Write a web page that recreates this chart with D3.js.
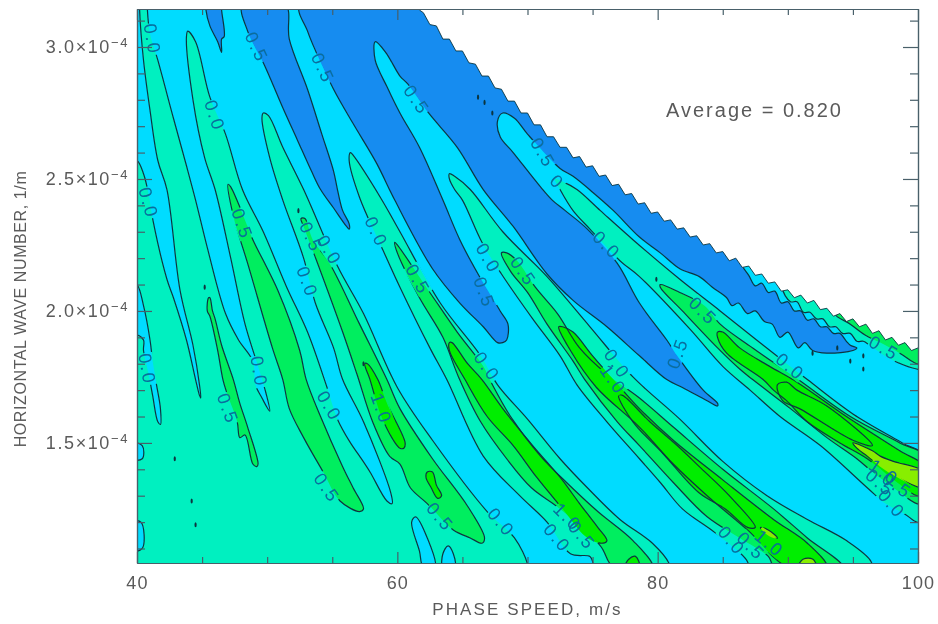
<!DOCTYPE html>
<html>
<head>
<meta charset="utf-8">
<script src="https://cdn.jsdelivr.net/npm/d3@7"></script>
<style>
  body { margin: 0; background: #fff; }
  text { font-family: "Liberation Sans", sans-serif; }
</style>
</head>
<body>
<div id="chart"></div>
<script>
// all regions are [phase speed m/s, wave number in 1e-4 1/m]

// top right edge of the data, the sawtooth next to the white area
var edgeOfData = [[61.7,3.14],[62,3.13],[62.5,3.085],[63,3.08],[63.5,3.03],[64,3.03],[64.5,2.985],[65,2.985],[65.5,2.94],[66,2.935],[66.5,2.89],[67,2.89],[67.5,2.845],[68,2.84],[68.5,2.795],[69,2.795],[69.5,2.75],[70,2.75],[70.5,2.705],[71,2.705],[71.5,2.66],[72,2.66],[72.5,2.62],[73,2.62],[73.5,2.58],[74,2.585],[74.5,2.545],[75,2.55],[75.5,2.51],[76,2.515],[76.5,2.475],[77,2.48],[77.5,2.44],[78,2.445],[78.5,2.405],[79,2.41],[79.5,2.37],[80,2.375],[80.5,2.34],[81,2.345],[81.5,2.31],[82,2.315],[82.5,2.28],[83,2.285],[83.5,2.25],[84,2.255],[84.5,2.22],[85,2.225],[85.5,2.19],[86,2.2],[86.5,2.165],[87,2.17],[87.5,2.135],[88,2.14],[88.5,2.105],[89,2.11],[89.5,2.075],[90,2.08],[90.5,2.05],[91,2.06],[91.5,2.03],[92,2.04],[92.5,2.005],[93,2.01],[93.5,1.98],[94,1.99],[94.5,1.96],[95,1.97],[95.5,1.94],[96,1.95],[96.5,1.915],[97,1.925],[97.5,1.89],[98,1.9],[98.5,1.87],[99,1.88],[99.5,1.85],[100,1.86],[100.5,1.85],[100.5,3.16],[61.7,3.16]];

// below -0.5
var blueThin = [[45.3,3.16],[45.3,3.14],[45.6,3.08],[46.2,3.02],[46.5,2.98],[46.5,3.03],[46.7,3.04],[46.5,3.14],[46.5,3.16]];
var blueSecond = [[48.1,3.16],[48.5,3.06],[49.8,2.93],[51.2,2.77],[52.3,2.65],[53.4,2.53],[54.1,2.46],[55.1,2.39],[56.1,2.32],[56.3,2.31],[56.3,2.33],[55.8,2.38],[55.4,2.46],[55.1,2.53],[54.2,2.67],[53.1,2.84],[51.7,3.03],[51.4,3.16]];
var blueLarge = [[52.5,3.16],[53.1,3.06],[53.5,3.01],[55.1,2.84],[56.6,2.71],[58.4,2.56],[59.8,2.42],[62.7,2.16],[64.8,2.03],[66.6,1.94],[67.7,1.88],[68.1,1.88],[68.4,1.89],[68.5,1.95],[67.9,2],[66.2,2.14],[64.8,2.27],[63.5,2.42],[61.7,2.62],[60.2,2.75],[59.2,2.85],[58.3,2.95],[58.3,3.02],[59.1,2.98],[60.2,2.89],[60.8,2.86],[62.4,2.75],[64.6,2.62],[66.6,2.46],[68.9,2.32],[71.5,2.14],[73.5,2.04],[76.1,1.94],[78.6,1.83],[80.7,1.74],[81.9,1.71],[83.8,1.66],[84.6,1.64],[84.6,1.65],[83.5,1.7],[81.5,1.83],[80.7,1.89],[78.6,2.03],[76.9,2.18],[74.6,2.31],[72.9,2.38],[71.9,2.42],[71,2.47],[68.9,2.6],[67.9,2.66],[67.7,2.72],[68.1,2.75],[69,2.73],[70,2.67],[72.5,2.54],[73.5,2.51],[75,2.45],[76.6,2.38],[78.6,2.28],[80.2,2.22],[81.7,2.16],[83.2,2.13],[84.2,2.09],[85.3,2.05],[85.7,2.02],[86.2,2.03],[86.9,1.99],[87.5,2],[88.2,1.96],[88.8,1.95],[89.4,1.9],[90,1.92],[90.8,1.86],[91.3,1.88],[91.9,1.85],[93,1.84],[95,1.85],[95.3,1.86],[94.8,1.87],[94.5,1.885],[94,1.915],[93.5,1.915],[93,1.94],[92.5,1.94],[92,1.97],[91.5,1.965],[91,2],[90.5,2],[90,2.035],[89.5,2.03],[89,2.075],[88.5,2.07],[88,2.105],[87.5,2.095],[87,2.135],[86.5,2.17],[85.9,2.25],[61.7,3.16]];

// 0 to 0.5
var tealMain = [[39.5,1.01],[39.5,2.57],[40,2.57],[40.5,2.52],[40.9,2.44],[41.2,2.35],[42.3,2.12],[42.8,2.05],[43.8,1.89],[44.5,1.74],[44.8,1.68],[44.9,1.67],[44.8,1.72],[44.3,1.87],[43.3,2.08],[42.3,2.46],[41.6,2.57],[41,2.76],[40.5,2.95],[40.2,3.14],[40.2,3.16],[40.8,3.16],[40.8,3.14],[41,3.05],[41.6,2.95],[42.8,2.73],[43.8,2.55],[44.5,2.42],[45.4,2.24],[46.8,1.99],[47.8,1.89],[48.9,1.81],[49.1,1.72],[49.6,1.67],[50.2,1.62],[49.9,1.69],[49.3,1.79],[48.3,1.95],[47.2,2.2],[46,2.46],[45.2,2.58],[44.3,2.8],[43.8,3.04],[43.9,3.06],[44.5,3.02],[45.6,2.81],[46.8,2.67],[48.1,2.46],[49.7,2.3],[51.5,2.09],[53.1,1.92],[54.6,1.71],[55.4,1.59],[56.4,1.5],[57.1,1.45],[57.9,1.39],[59.2,1.28],[59.6,1.27],[59.5,1.31],[57.4,1.58],[55.8,1.74],[55.1,1.86],[53.7,2.03],[52.8,2.2],[51.2,2.42],[50.2,2.58],[49.6,2.73],[49.7,2.75],[50.1,2.74],[51.2,2.62],[52.8,2.46],[55.4,2.17],[57.4,1.99],[60,1.71],[62.7,1.51],[66.9,1.24],[69,1.14],[70,1.04],[70,1.01],[75,1.01],[75,1.05],[74.8,1.07],[73.3,1.08],[71.5,1.2],[69.4,1.3],[66.6,1.45],[63.8,1.74],[62.5,1.86],[60.2,2.09],[58.9,2.23],[57.1,2.43],[56.3,2.57],[56.4,2.6],[56.6,2.59],[58.7,2.43],[60.2,2.3],[63.3,2.03],[66.4,1.83],[67.7,1.72],[70,1.59],[72.5,1.44],[74.6,1.33],[77.1,1.21],[79.6,1.12],[80.9,1.04],[80.9,1.01],[86.9,1.01],[86.9,1.05],[84.4,1.16],[81.9,1.25],[80.2,1.35],[78.6,1.44],[76.1,1.58],[73.8,1.72],[72.5,1.83],[70.4,1.97],[68,2.14],[66.5,2.26],[65,2.42],[64.4,2.46],[64,2.5],[64,2.52],[64.4,2.51],[65.6,2.46],[68.1,2.3],[71.5,2.13],[74.8,1.94],[78.1,1.75],[81.7,1.59],[85,1.43],[88.4,1.3],[91.5,1.21],[94.5,1.13],[96.4,1.05],[96.4,1.01]];
var tealRight = [[72.1,2.5],[72.7,2.49],[73.8,2.46],[75.6,2.38],[78.1,2.27],[81.7,2.12],[84.8,2],[87.6,1.89],[91.5,1.74],[95,1.61],[98.8,1.5],[100.5,1.45],[100.5,1.2],[99.9,1.2],[99,1.23],[97.5,1.27],[96.1,1.33],[92.5,1.49],[89.4,1.6],[87.1,1.7],[85,1.79],[82.5,1.93],[78.6,2.13],[77.1,2.19],[74.8,2.31],[73.5,2.38],[72.5,2.46]];
var tealEdge = [[89.6,2.09],[90.2,2.035],[90.7,2.035],[91.2,1.995],[91.7,1.995],[92.2,1.97],[92.7,1.97],[93.2,1.94],[93.7,1.94],[94.2,1.915],[94.8,1.915],[95.3,1.885],[95.8,1.885],[96.3,1.87],[97.8,1.82],[99.9,1.78],[100.5,1.78],[100.5,2.04],[90.9,2.16]];

// patches below 0 inside the teal
var cyanSliver = [[39.5,2.11],[40,2.1],[40.5,2.02],[41,1.89],[41.2,1.81],[41.5,1.72],[41.8,1.63],[41.8,1.57],[41.6,1.58],[41.2,1.68],[40.9,1.76],[40.5,1.85],[40.5,1.89],[40,1.91],[39.5,1.91]];
var cyanWallA = [[39.5,1.5],[40.4,1.49],[40.4,1.44],[39.5,1.44]];
var cyanWallB = [[39.5,1.2],[40.3,1.2],[40.4,1.1],[39.5,1.09]];
var cyanFootA = [[61.1,1.2],[61.4,1.22],[62.3,1.14],[62.9,1.03],[62,1.03],[61.7,1.09]];
var cyanFootB = [[63.5,1.03],[63.5,1.08],[63.9,1.11],[64.3,1.08],[64.4,1.03]];

// 0.5 to 1
var greenA = [[45.5,2.05],[45.4,2],[45.6,1.98],[46.2,1.85],[46.6,1.74],[46.9,1.69],[47.7,1.58],[47.9,1.52],[48.3,1.53],[48.9,1.42],[49.2,1.41],[49.3,1.42],[48.5,1.56],[47.9,1.65],[47.4,1.74],[46.5,1.87],[46,1.97],[45.8,2],[45.6,2.05]];
var greenB = [[47,2.48],[47.4,2.36],[48.5,2.18],[50.4,1.86],[51.2,1.74],[51.7,1.63],[52.8,1.52],[54.3,1.39],[55.6,1.28],[57.1,1.24],[57.4,1.25],[56.6,1.33],[55.8,1.41],[54.1,1.6],[53,1.74],[52.5,1.85],[50.8,2.08],[48.9,2.27],[48.5,2.32],[47.2,2.47]];
var greenC = [[52.6,2.35],[52.8,2.32],[53.8,2.19],[55.8,1.92],[56.9,1.76],[58.1,1.58],[59.4,1.45],[60.2,1.42],[61,1.33],[62.3,1.27],[64.3,1.17],[65.6,1.14],[66.5,1.12],[66.7,1.14],[65.4,1.26],[62.7,1.44],[60.2,1.63],[59.2,1.74],[57.1,1.95],[54.8,2.18],[53.5,2.27],[52.9,2.35]];
var greenD = [[59.8,2.26],[60,2.22],[61.7,2.05],[63.5,1.9],[64.7,1.75],[66.4,1.58],[68.4,1.44],[70.3,1.33],[72.5,1.25],[75.6,1.11],[76.6,1.03],[79.6,1.03],[78.1,1.13],[75.4,1.24],[73,1.35],[71,1.45],[68.7,1.6],[67.1,1.74],[66.6,1.79],[64.6,1.92],[62.5,2.07],[60,2.25]];
var greenE = [[68,2.22],[68.7,2.15],[70,2.07],[71.5,1.95],[73.5,1.81],[74.4,1.74],[76.9,1.58],[78.6,1.49],[81.2,1.35],[83.8,1.22],[86.3,1.14],[88.5,1.07],[89,1.03],[94.2,1.03],[91.5,1.14],[88.9,1.25],[85,1.4],[81.2,1.56],[78.6,1.67],[76.1,1.76],[74,1.86],[72.3,1.99],[70.6,2.09],[69.2,2.19],[68.4,2.22]];
var greenF = [[80.2,2.1],[81.7,2.07],[83.6,2.02],[84.8,1.95],[87.3,1.86],[90.8,1.74],[94.8,1.6],[98.6,1.5],[100.5,1.45],[100.5,1.27],[99.9,1.27],[98.4,1.32],[96.5,1.39],[95.3,1.44],[93,1.52],[90.2,1.63],[87.3,1.74],[86.3,1.78],[84.6,1.86],[81.9,2],[80.2,2.09]];
var greenEdge = [[93.6,1.99],[94.8,1.95],[95.9,1.91],[97.1,1.88],[98.6,1.84],[99.9,1.8],[100.5,1.8],[100.5,1.97],[94,2.04]];

// 1 to 1.5
var brightC = [[57.5,1.8],[57.7,1.8],[58.5,1.74],[59.2,1.65],[60.6,1.5],[60.5,1.48],[60.2,1.48],[59.7,1.51],[58.7,1.61],[57.9,1.74]];
var brightCSmall = [[62.3,1.39],[62.7,1.39],[63,1.34],[63.4,1.3],[63.1,1.29],[62.6,1.33],[62.2,1.37]];
var brightD = [[64,1.88],[64.2,1.88],[65.4,1.8],[66.5,1.74],[68.1,1.63],[70.4,1.49],[72.5,1.37],[74,1.27],[75.4,1.18],[76.1,1.13],[75.8,1.12],[74.6,1.14],[72.7,1.25],[70.7,1.37],[68.9,1.49],[66.9,1.6],[65.2,1.74],[64,1.85]];
var brightDFoot = [[77.5,1.03],[77.8,1.06],[78.3,1.07],[78.6,1.03]];
var brightE = [[72.4,1.94],[73.3,1.85],[75.3,1.71],[78.6,1.56],[81.2,1.42],[83.8,1.3],[86.9,1.17],[90,1.03],[93,1.03],[91.5,1.12],[88.9,1.21],[85,1.36],[81.2,1.51],[78.6,1.63],[76.6,1.74],[75,1.83],[73.5,1.92],[72.7,1.94]];
var brightEInner = [[77,1.68],[77.3,1.68],[79.4,1.58],[81.5,1.49],[83.2,1.41],[85.5,1.3],[87.5,1.18],[86.9,1.18],[85.2,1.25],[83.2,1.31],[80.4,1.46],[78.1,1.58]];
var brightF = [[84.6,1.92],[85,1.92],[86.3,1.86],[88.6,1.79],[90.7,1.73],[94.5,1.6],[98.6,1.47],[100.5,1.41],[100.5,1.3],[99.9,1.3],[98.4,1.35],[96.1,1.44],[94,1.5],[91.5,1.58],[89.9,1.66],[88.9,1.7],[88.1,1.74],[85.3,1.84],[84.6,1.9]];
var brightFInner = [[89.2,1.72],[89.9,1.73],[90.7,1.7],[93,1.64],[96.5,1.49],[95,1.51],[90.9,1.63],[89.6,1.66]];

// above 1.5
var yellowE = [[87.9,1.18],[88.5,1.17],[89.2,1.14],[88.9,1.14],[88.2,1.16]];
var yellowEFoot = [[90.8,1.03],[91.2,1.06],[91.9,1.06],[92.2,1.03]];
var yellowF = [[95,1.5],[96.5,1.47],[97.1,1.45],[98.1,1.43],[100.5,1.39],[100.5,1.33],[98.4,1.37],[97.1,1.41],[96.1,1.45],[95.3,1.48]];

// tiny closed contours
var specks = [[66.2,2.81],[66.7,2.79],[67.3,2.75],[91.9,1.84],[93.8,1.86],[94.8,1.81],[95.8,1.83],[95.8,1.78],[44.2,1.28],[44.5,1.19],[45.2,2.09],[42.9,1.44],[79.9,2.12],[52.4,2.38],[57.4,1.8]];

// contour labels: speed, wave number, angle, text
var contourLabels = [
  [41.2,3.03,80,"0.0"],[46,2.74,72,"0.0"],[49.2,3,65,"0.5"],[54.3,2.92,65,"0.5"],[61.5,2.8,55,"0.5"],
  [71.2,2.6,60,"0.5"],[72.3,2.49,45,"0"],[40.9,2.41,75,"0.0"],[48.1,2.33,70,"0.5"],[53.4,2.28,65,"0.5"],
  [54.8,2.23,60,"0.0"],[53.1,2.11,70,"0.0"],[58.4,2.3,65,"0.0"],[61.6,2.12,60,"0.5"],[40.8,1.78,80,"0.0"],
  [49.4,1.77,80,"0.0"],[47,1.63,70,"0.5"],[54.8,1.64,60,"0.0"],[58.8,1.63,70,"1.0"],[54.6,1.33,55,"0.5"],
  [63.3,1.22,50,"0.5"],[68,1.2,50,"0.0"],[66.7,2.07,70,"0.5"],[67,2.2,60,"0.0"],[69.7,2.15,55,"0.5"],
  [66.9,1.79,55,"0.0"],[76.1,2.25,45,"0.0"],[81.5,1.84,-70,"0.5"],[76.9,1.8,55,"0.0"],[76.6,1.74,55,"1.0"],
  [83.5,2,45,"0.5"],[90.2,1.79,40,"0.0"],[97.4,1.86,30,"0.5"],[97.4,1.39,35,"1.0"],[97.1,1.35,40,"0.5"],
  [98.4,1.34,35,"0.5"],[98,1.27,50,"0.0"],[85.7,1.13,50,"0.0"],[87.2,1.11,45,"0.5"],[88.6,1.12,40,"1.0"],
  [73.1,1.22,45,"1.0"],[74.2,1.15,50,"0.5"],[72.3,1.14,50,"0.0"]
];

var speedTicks = [40, 60, 80, 100];
var speedMinorTicks = [45, 50, 55, 65, 70, 75, 85, 90, 95];
var waveTicks = [1.5, 2, 2.5, 3];
var waveMinorTicks = [1.1, 1.2, 1.3, 1.4, 1.6, 1.7, 1.8, 1.9, 2.1, 2.2, 2.3, 2.4, 2.6, 2.7, 2.8, 2.9, 3.1];

var blue = "#128cf0", cyan = "#00dcff", teal = "#00f0c0", green = "#00ee5e", bright = "#00ee00", yellow = "#88ee00";

var layers = [
  [blueThin, blue], [blueSecond, blue], [blueLarge, blue],
  [tealMain, teal], [tealRight, teal], [tealEdge, teal],
  [cyanSliver, cyan], [cyanWallA, cyan], [cyanWallB, cyan], [cyanFootA, cyan], [cyanFootB, cyan],
  [greenA, green], [greenB, green], [greenC, green], [greenD, green], [greenE, green], [greenF, green], [greenEdge, green],
  [brightC, bright], [brightCSmall, bright], [brightD, bright], [brightDFoot, bright], [brightE, bright],
  [brightEInner, bright], [brightF, bright], [brightFInner, bright],
  [yellowE, yellow], [yellowEFoot, yellow], [yellowF, yellow]
];

var svgWidth = 938;
var svgHeight = 624;
var margin = { top: 9, right: 20, bottom: 61, left: 137 };
var width = svgWidth - margin.left - margin.right;
var height = svgHeight - margin.top - margin.bottom;
var inkColor = "#0e3640";
var axisColor = "#48606a";
var textColor = "#5a5a5a";

var svg = d3.select("#chart").append("svg")
  .attr("width", svgWidth)
  .attr("height", svgHeight)
  .style("display", "block");

var xScale = d3.scaleLinear().domain([40, 100]).range([0, width]);
var yScale = d3.scaleLinear().domain([1.045, 3.144]).range([height, 0]);

var smooth = d3.line()
  .x(d => xScale(d[0]))
  .y(d => yScale(d[1]))
  .curve(d3.curveCatmullRomClosed.alpha(0.5));

var jagged = d3.line()
  .x(d => xScale(d[0]))
  .y(d => yScale(d[1]))
  .curve(d3.curveLinearClosed);

var defs = svg.append("defs");

defs.append("clipPath").attr("id", "plotClip")
  .append("rect").attr("width", width).attr("height", height);

// the reference is a soft scan, take the hard edge off everything
defs.append("filter").attr("id", "soften")
  .attr("x", "-2%").attr("y", "-2%").attr("width", "104%").attr("height", "104%")
  .append("feGaussianBlur").attr("stdDeviation", 0.45);

// contour lines stop around their labels
var labelMask = defs.append("mask").attr("id", "labelGaps")
  .attr("maskUnits", "userSpaceOnUse")
  .attr("x", 0).attr("y", 0).attr("width", width).attr("height", height);
labelMask.append("rect").attr("width", width).attr("height", height).attr("fill", "#fff");
labelMask.selectAll("rect.gap")
  .data(contourLabels)
  .enter()
  .append("rect")
  .attr("class", "gap")
  .attr("x", d => d[3].length > 1 ? -16 : -7)
  .attr("y", -8)
  .attr("width", d => d[3].length > 1 ? 32 : 14)
  .attr("height", 16)
  .attr("fill", "#000")
  .attr("transform", d => `translate(${xScale(d[0])}, ${yScale(d[1])}) rotate(${d[2]})`);

var chartGroup = svg.append("g")
  .attr("transform", `translate(${margin.left}, ${margin.top})`)
  .attr("filter", "url(#soften)");

var plot = chartGroup.append("g").attr("clip-path", "url(#plotClip)");

plot.append("rect").attr("width", width).attr("height", height).attr("fill", cyan);

plot.append("g").selectAll("path")
  .data(layers)
  .enter()
  .append("path")
  .attr("d", d => smooth(d[0]))
  .attr("fill", d => d[1]);

var lines = plot.append("g")
  .attr("mask", "url(#labelGaps)")
  .attr("fill", "none")
  .attr("stroke", inkColor)
  .attr("stroke-width", 1.2);

lines.selectAll("path")
  .data(layers)
  .enter()
  .append("path")
  .attr("d", d => smooth(d[0]));

lines.selectAll("ellipse")
  .data(specks)
  .enter()
  .append("ellipse")
  .attr("cx", d => xScale(d[0]))
  .attr("cy", d => yScale(d[1]))
  .attr("rx", 0.5)
  .attr("ry", 2)
  .attr("fill", inkColor);

// nothing was computed beyond the sawtooth
plot.append("path")
  .attr("d", jagged(edgeOfData))
  .attr("fill", "#fff")
  .attr("stroke", inkColor)
  .attr("stroke-width", 0.9);

plot.append("g").selectAll("text")
  .data(contourLabels)
  .enter()
  .append("text")
  .attr("transform", d => `translate(${xScale(d[0])}, ${yScale(d[1])}) rotate(${d[2]})`)
  .attr("text-anchor", "middle")
  .attr("dy", "0.36em")
  .attr("font-size", 18)
  .attr("letter-spacing", 2.2)
  .attr("fill", "#086c9c")
  .text(d => d[3]);

// frame and ticks, all pointing inward
function drawAxis(axis, transform) {
  var g = chartGroup.append("g").attr("transform", transform).call(axis);
  g.selectAll("path, line").attr("stroke", axisColor).attr("stroke-width", 1.2);
  g.selectAll("text").attr("fill", textColor).attr("font-size", 18)
    .attr("font-family", "Liberation Sans, sans-serif");
  return g;
}

var bottomAxis = drawAxis(d3.axisBottom(xScale).tickValues(speedTicks).tickSize(-11).tickPadding(13).tickSizeOuter(0), `translate(0, ${height})`);
bottomAxis.selectAll("text").attr("letter-spacing", 1.2);
drawAxis(d3.axisBottom(xScale).tickValues(speedMinorTicks).tickSize(-6).tickFormat("").tickSizeOuter(0), `translate(0, ${height})`);
drawAxis(d3.axisTop(xScale).tickValues(speedTicks).tickSize(-11).tickFormat("").tickSizeOuter(0), "translate(0, 0)");
drawAxis(d3.axisTop(xScale).tickValues(speedMinorTicks).tickSize(-6).tickFormat("").tickSizeOuter(0), "translate(0, 0)");

var leftAxis = drawAxis(d3.axisLeft(yScale).tickValues(waveTicks).tickSize(-15).tickPadding(8).tickSizeOuter(0)
  .tickFormat(d => d3.format(".1f")(d) + "\u00d710"), "translate(0, 0)");
leftAxis.selectAll("text").attr("letter-spacing", 1.6)
  .append("tspan").attr("dy", "-0.5em").attr("font-size", 13).text("\u22124");

drawAxis(d3.axisLeft(yScale).tickValues(waveMinorTicks).tickSize(-8).tickFormat("").tickSizeOuter(0), "translate(0, 0)");
drawAxis(d3.axisRight(yScale).tickValues(waveTicks).tickSize(-15).tickFormat("").tickSizeOuter(0), `translate(${width}, 0)`);
drawAxis(d3.axisRight(yScale).tickValues(waveMinorTicks).tickSize(-8).tickFormat("").tickSizeOuter(0), `translate(${width}, 0)`);

chartGroup.append("text")
  .attr("x", width / 2 + 0)
  .attr("y", height + 52)
  .attr("text-anchor", "middle")
  .attr("font-size", 17)
  .attr("letter-spacing", 2.1)
  .attr("fill", textColor)
  .text("PHASE SPEED, m/s");

chartGroup.append("text")
  .attr("transform", `translate(-111, ${height / 2 + 23}) rotate(-90)`)
  .attr("text-anchor", "middle")
  .attr("font-size", 16)
  .attr("letter-spacing", 0.6)
  .attr("fill", textColor)
  .text("HORIZONTAL WAVE NUMBER, 1/m");

chartGroup.append("text")
  .attr("x", 529)
  .attr("y", 108)
  .attr("font-size", 20)
  .attr("letter-spacing", 2)
  .attr("fill", textColor)
  .text("Average = 0.820");
</script>
</body>
</html>
